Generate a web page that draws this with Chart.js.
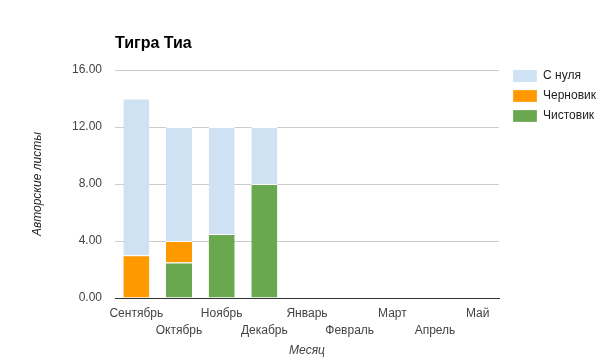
<!DOCTYPE html>
<html><head><meta charset="utf-8">
<script src="https://cdn.jsdelivr.net/npm/chart.js@4"></script>
<style>html,body{margin:0;padding:0;background:#fff}#wrap{width:605px;height:357px}</style>
</head><body><div id="wrap"><canvas id="c" width="605" height="357"></canvas></div>
<script>
const titleText = 'Тигра Тиа';
const months = ['Сентябрь','Октябрь','Ноябрь','Декабрь','Январь','Февраль','Март','Апрель','Май'];
const chistovik = [null, 2.5, 4.5, 8, null, null, null, null, null];
const chernovik = [3, 1.5, null, null, null, null, null, null, null];
const sNulya = [11, 8, 7.5, 4, null, null, null, null, null];
const seriesNames = ['Чистовик', 'Черновик', 'С нуля'];
const yTicks = [0, 4, 8, 12, 16];
const yTitle = 'Авторские листы';
const xTitle = 'Месяц';

const FONT = 'Arial, "Liberation Sans", sans-serif';
Chart.defaults.font.family = FONT;

const titlePlugin = {
  id: 'gtitle',
  afterDraw(chart) {
    const ctx = chart.ctx;
    ctx.save();
    ctx.font = 'bold 16px ' + FONT;
    ctx.fillStyle = '#000';
    ctx.textBaseline = 'alphabetic';
    ctx.textAlign = 'left';
    ctx.fillText(titleText, chart.chartArea.left, 47.5);
    ctx.restore();
  }
};
const legendShift = {
  id: 'legendShift',
  afterLayout(chart) {
    const l = chart.legend;
    if (l) { l.top -= 8; l.bottom -= 8; l.left += 6; l.right += 6; }
  }
};

new Chart(document.getElementById('c'), {
  type: 'bar',
  data: {
    labels: months,
    datasets: [
      { label: seriesNames[0], data: chistovik, backgroundColor: '#6aa84f', borderColor: '#fff', borderWidth: {top: 1, left: 0, right: 0, bottom: 0}, borderSkipped: false },
      { label: seriesNames[1], data: chernovik, backgroundColor: '#ff9900', borderColor: '#fff', borderWidth: {top: 1, left: 0, right: 0, bottom: 0}, borderSkipped: false },
      { label: seriesNames[2], data: sNulya, backgroundColor: '#cfe2f3', borderColor: '#fff', borderWidth: {top: 1, left: 0, right: 0, bottom: 0}, borderSkipped: false }
    ]
  },
  options: {
    responsive: false,
    devicePixelRatio: 1,
    animation: false,
    categoryPercentage: 1,
    barPercentage: 0.61,
    layout: { padding: { top: 70, right: 5, left: 0, bottom: 0 } },
    plugins: {
      title: { display: false },
      tooltip: { enabled: false },
      legend: {
        position: 'right',
        align: 'start',
        reverse: true,
        labels: { boxWidth: 24, boxHeight: 12, padding: 8, color: '#222', font: { size: 12 } }
      }
    },
    scales: {
      x: {
        stacked: true,
        grid: { display: false, drawTicks: false },
        border: { display: true, color: '#333', width: 1 },
        ticks: {
          autoSkip: false, maxRotation: 0, minRotation: 0,
          color: '#444', font: { size: 12, lineHeight: 1.4 }, padding: 7,
          callback: (v, i) => i % 2 === 0 ? [months[i], ''] : ['', months[i]]
        },
        title: { display: true, text: xTitle, color: '#444', font: { size: 12, style: 'italic', lineHeight: 1 }, padding: { top: 0, bottom: 0 } },
        afterFit: (s) => { s.height = 59; }
      },
      y: {
        stacked: true,
        min: yTicks[0], max: yTicks[yTicks.length - 1],
        afterBuildTicks: (s) => { s.ticks = yTicks.map(v => ({ value: v })); },
        grid: { color: (c) => c.tick && c.tick.value === 0 ? '#333' : '#ccc', drawTicks: false },
        border: { display: false },
        ticks: { color: '#444', font: { size: 12 }, padding: 13, callback: (v) => Number(v).toFixed(2) },
        title: { display: true, text: yTitle, color: '#222', font: { size: 12, style: 'italic', lineHeight: 1.2 }, padding: { top: 30, bottom: 0 } },
        afterFit: (s) => { s.width = 115; }
      }
    }
  },
  plugins: [titlePlugin, legendShift]
});
</script>
</body></html>
